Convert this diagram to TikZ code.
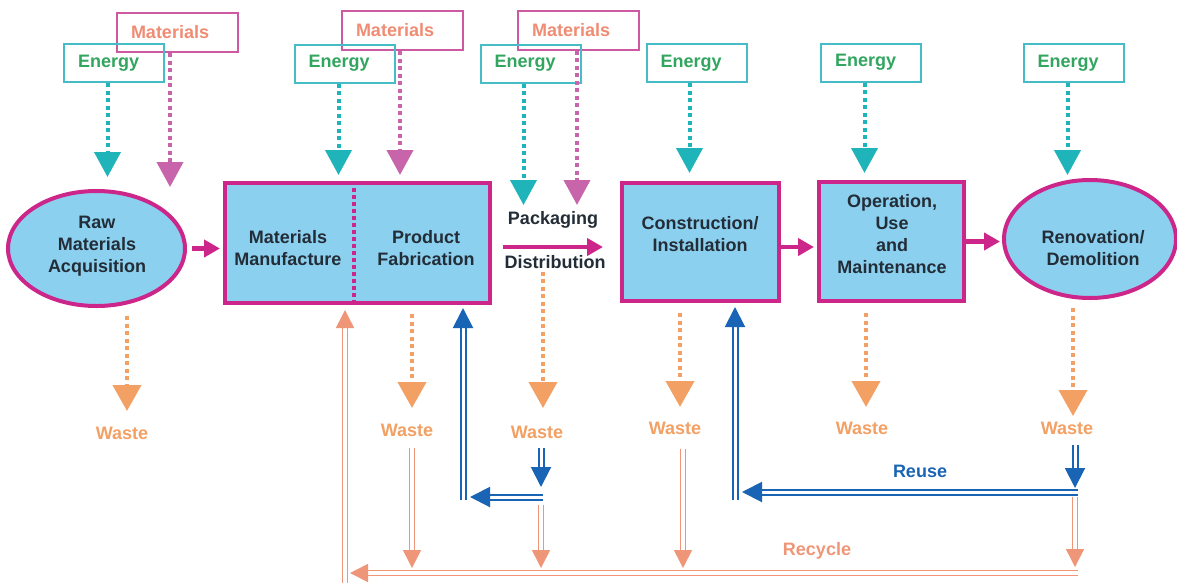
\documentclass[tikz,border=0pt]{standalone}
\usepackage{fontspec}
\setmainfont{Liberation Sans}
\usetikzlibrary{arrows.meta,shapes.geometric}

\definecolor{flowmag}{RGB}{204,38,138}
\definecolor{stagefill}{RGB}{140,208,240}
\definecolor{stagetext}{RGB}{35,45,55}
\definecolor{energyframe}{RGB}{70,188,198}
\definecolor{energytext}{RGB}{50,165,95}
\definecolor{energyarrow}{RGB}{30,180,185}
\definecolor{matframe}{RGB}{205,90,160}
\definecolor{mattext}{RGB}{240,140,115}
\definecolor{matarrow}{RGB}{200,100,170}
\definecolor{wastecol}{RGB}{243,160,100}
\definecolor{recyclecol}{RGB}{240,150,120}
\definecolor{reusecol}{RGB}{25,100,180}

\begin{document}
\begin{tikzpicture}[x=1pt,y=-1pt,
  font=\bfseries\fontsize{18}{22}\selectfont,
  stage/.style={draw=flowmag, line width=4pt, fill=stagefill, inner sep=0pt},
  stagetxt/.style={text=stagetext, align=center, inner sep=0pt},
  energybox/.style={draw=energyframe, line width=2pt, text=energytext,
    minimum height=38pt, inner xsep=14pt, inner ysep=0pt, text width=72pt, align=left},
  matbox/.style={draw=matframe, line width=2pt, text=mattext,
    minimum height=39pt, inner xsep=14pt, inner ysep=0pt, text width=93pt, align=left},
  energyflow/.style={draw=energyarrow, line width=4pt, dash pattern=on 4pt off 3.5pt,
    -{Triangle[width=26pt,length=25pt]}},
  matflow/.style={draw=matarrow, line width=4pt, dash pattern=on 4pt off 3.5pt,
    -{Triangle[width=26pt,length=25pt]}},
  wasteflow/.style={draw=wastecol, line width=4pt, dash pattern=on 4pt off 3.5pt,
    -{Triangle[width=28pt,length=26pt]}},
  flow/.style={draw=flowmag, line width=4.5pt, -{Triangle[width=17pt,length=16pt]}},
  divider/.style={draw=flowmag, line width=3.5pt, dash pattern=on 3.5pt off 3.5pt},
  wastetxt/.style={text=wastecol, inner sep=1pt},
  recyc/.style={draw=recyclecol, line width=1.6pt, double=white, double distance=3.5pt,
    -{Triangle[width=18pt,length=18pt]}},
  reuse/.style={draw=reusecol, line width=2pt, double=white, double distance=3pt,
    -{Triangle[width=20pt,length=20pt]}}
]
\fill[white] (0,0) rectangle (1177,582);
\useasboundingbox (0,0) rectangle (1177,582);

% life-cycle stages
\node[stage, ellipse, minimum width=177pt, minimum height=115pt] (raw) at (96.5,248.5) {};
\node[stage, minimum width=265pt, minimum height=120pt] (mfg) at (357.5,243) {};
\node[stage, minimum width=157pt, minimum height=118pt] (con) at (700.5,242) {};
\node[stage, minimum width=145pt, minimum height=119pt] (opr) at (891.5,241.5) {};
\node[stage, ellipse, minimum width=172pt, minimum height=118pt] (ren) at (1090,239) {};

\coordinate (split) at (354,243);
\draw[divider] (mfg.north -| split) -- (mfg.south -| split);

\node[stagetxt] (rawtxt) at (97,246.5) {Raw\\Materials\\Acquisition};
\node[stagetxt] (mmtxt) at (288,248.5) {Materials\\Manufacture};
\node[stagetxt] (pftxt) at (426,248.5) {Product\\Fabrication};
\node[stagetxt] (contxt) at (700,234) {Construction/\\Installation};
\node[stagetxt] (oprtxt) at (892,234.5) {Operation,\\Use\\and\\Maintenance};
\node[stagetxt] (rentxt) at (1093,248) {Renovation/\\Demolition};
\node[stagetxt] (pack) at (553,220) {Packaging};
\node[stagetxt] (dist) at (555,262) {Distribution};

% main flow
\draw[flow, shorten <=5pt, shorten >=3pt] (raw.east) -- (raw.east -| mfg.west);
\draw[flow, shorten <=11pt, shorten >=17pt] ([yshift=-4pt]mfg.east) -- ([yshift=-4pt]mfg.east -| con.west);
\draw[flow, shorten >=3pt] ([yshift=-5pt]con.east) -- ([yshift=-5pt]con.east -| opr.west);
\draw[flow, shorten >=2pt] (opr.east) -- (opr.east -| ren.west);

% inputs
\node[matbox] (m1) at (177.5,32.5) {Materials};
\node[matbox] (m2) at (402.5,30.5) {Materials};
\node[matbox] (m3) at (578.5,30) {Materials};
\node[energybox] (e1) at (114,63) {Energy};
\node[energybox] (e2) at (344.5,63.5) {Energy};
\node[energybox] (e3) at (530.5,63.5) {Energy};
\node[energybox] (e4) at (696.5,63) {Energy};
\node[energybox] (e5) at (871,62.5) {Energy};
\node[energybox] (e6) at (1073.5,63) {Energy};

\coordinate (e1tip) at (107.5,177);
\coordinate (e2tip) at (338.5,175);
\coordinate (e3tip) at (523.5,205);
\coordinate (e4tip) at (689.5,173);
\coordinate (e5tip) at (864.5,173);
\coordinate (e6tip) at (1067.5,175);
\coordinate (m1tip) at (170,187);
\coordinate (m2tip) at (400,175);
\coordinate (m3tip) at (577,205);

\draw[matflow] (m1.south -| m1tip) -- (m1tip);
\draw[matflow] (m2.south -| m2tip) -- (m2tip);
\draw[matflow] (m3.south -| m3tip) -- (m3tip);
\draw[energyflow] (e1.south -| e1tip) -- (e1tip);
\draw[energyflow] (e2.south -| e2tip) -- (e2tip);
\draw[energyflow] (e3.south -| e3tip) -- (e3tip);
\draw[energyflow] (e4.south -| e4tip) -- (e4tip);
\draw[energyflow] (e5.south -| e5tip) -- (e5tip);
\draw[energyflow] (e6.south -| e6tip) -- (e6tip);

% waste outputs
\node[wastetxt] (ws1) at (122,433) {Waste};
\node[wastetxt] (ws2) at (407,430) {Waste};
\node[wastetxt] (ws3) at (537,432) {Waste};
\node[wastetxt] (ws4) at (675,428) {Waste};
\node[wastetxt] (ws5) at (862,428) {Waste};
\node[wastetxt] (ws6) at (1067,428) {Waste};

\coordinate (w1tip) at (127,411);
\coordinate (w2tip) at (412,408);
\coordinate (w3tip) at (543,408);
\coordinate (w4tip) at (680,407);
\coordinate (w5tip) at (866,407);
\coordinate (w6tip) at (1073,416);

\draw[wasteflow, shorten <=8pt] (raw.south -| w1tip) -- (w1tip);
\draw[wasteflow, shorten <=9pt] (mfg.south -| w2tip) -- (w2tip);
\draw[wasteflow, shorten <=3pt] (dist.south -| w3tip) -- (w3tip);
\draw[wasteflow, shorten <=10pt] (con.south -| w4tip) -- (w4tip);
\draw[wasteflow, shorten <=10pt] (opr.south -| w5tip) -- (w5tip);
\draw[wasteflow, shorten <=8pt] (ren.south -| w6tip) -- (w6tip);

% reuse loops
\coordinate (b3a) at (541,448);
\coordinate (b3b) at (541,487);
\coordinate (b3c) at (543,497);
\coordinate (b3d) at (470,497);
\coordinate (b3e) at (463,500);
\coordinate (b6a) at (1075,445);
\coordinate (b6b) at (1075,488);
\coordinate (b6c) at (1078,492);
\coordinate (b6d) at (742,492);
\coordinate (b6e) at (735,500);

\draw[reuse] (b3a) -- (b3b);
\draw[reuse] (b3c) -- (b3d);
\draw[reuse, shorten >=3pt] (b3e) -- (b3e |- mfg.south);
\draw[reuse] (b6a) -- (b6b);
\draw[reuse] (b6c) -- (b6d);
\draw[reuse, shorten >=4pt] (b6e) -- (b6e |- con.south);
\node[text=reusecol, inner sep=1pt] (reuselbl) at (920,471) {Reuse};

% recycle loops
\coordinate (r2a) at (412,448);
\coordinate (r2b) at (412,568);
\coordinate (r3a) at (541,505);
\coordinate (r3b) at (541,568);
\coordinate (r4a) at (683,449);
\coordinate (r4b) at (683,568);
\coordinate (r6a) at (1075,497);
\coordinate (r6b) at (1075,567);
\coordinate (rha) at (1078,573);
\coordinate (rhb) at (350,573);
\coordinate (rva) at (345,584);

\draw[recyc] (r2a) -- (r2b);
\draw[recyc] (r3a) -- (r3b);
\draw[recyc] (r4a) -- (r4b);
\draw[recyc] (r6a) -- (r6b);
\draw[recyc] (rha) -- (rhb);
\draw[recyc, shorten >=5pt] (rva) -- (rva |- mfg.south);
\node[text=recyclecol, inner sep=1pt] (recyclelbl) at (817,551) {Recycle};
\end{tikzpicture}
\end{document}
